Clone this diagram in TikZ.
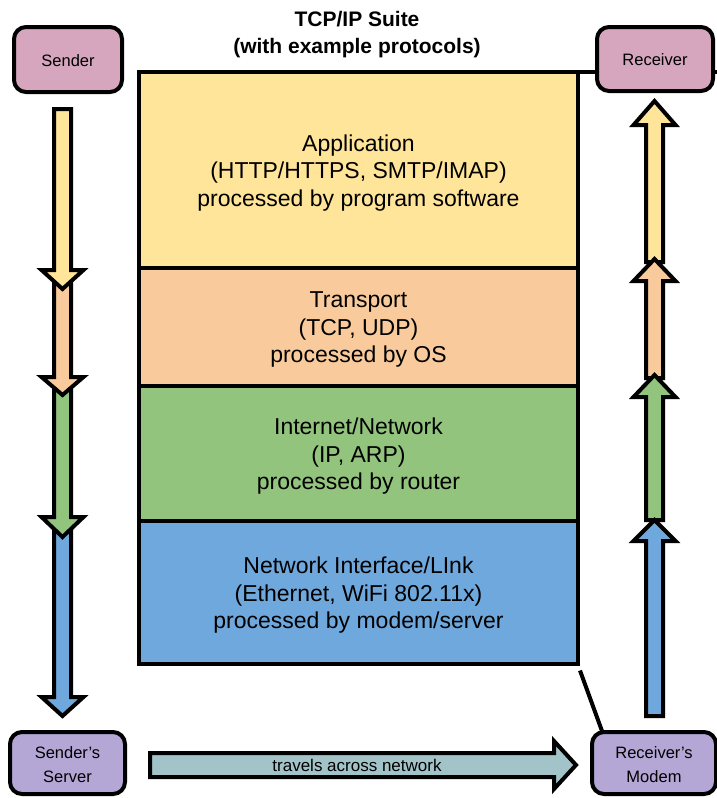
\documentclass[tikz,border=0pt]{standalone}
\usepackage{fontspec}
\setmainfont{Liberation Sans}
\usetikzlibrary{calc}

\definecolor{appfill}{HTML}{FFE599}
\definecolor{transfill}{HTML}{F9CB9C}
\definecolor{netfill}{HTML}{93C47D}
\definecolor{linkfill}{HTML}{6FA8DC}
\definecolor{endfill}{HTML}{D5A6BD}
\definecolor{hostfill}{HTML}{B4A7D6}
\definecolor{wirefill}{HTML}{A2C4C9}

% vertical block arrow: x, tail y, shoulder y, tip y, fill
\newcommand\blockarrow[5]{%
  \draw[arrowbody, fill=#5] (#1-8.5,#2) -- (#1+8.5,#2) -- (#1+8.5,#3)
    -- (#1+21,#3) -- (#1,#4) -- (#1-21,#3) -- (#1-8.5,#3) -- cycle;}

\tikzset{
  arrowbody/.style={draw=black, line width=4pt, line join=miter},
  layer/.style={draw=black, line width=4pt, minimum width=439pt, inner sep=0pt},
  layertext/.style={align=center, inner sep=0pt, font=\fontsize{23}{27.5}\selectfont},
  endbox/.style={draw=black, line width=4pt, rounded corners=12pt, inner sep=0pt},
  endtext/.style={align=center, inner sep=0pt, font=\fontsize{16.5}{24}\selectfont},
}

\begin{document}
\begin{tikzpicture}[x=1pt, y=-1pt]
\useasboundingbox (0,0) rectangle (717,798);

% title
\node[align=center, font=\bfseries\fontsize{21}{27}\selectfont] (title) at (357,35)
  {TCP/IP Suite\\(with example protocols)};

% top rule running out to the receiver
\coordinate (topend) at (717,72);
\draw[line width=4pt] (578,72) -- (topend);

% protocol layers
\node[layer, fill=appfill, minimum height=195.5pt] (app) at (358.5,169.75) {};
\node[layer, fill=transfill, minimum height=118pt] (trans) at (358.5,326.5) {};
\node[layer, fill=netfill, minimum height=135.5pt] (net) at (358.5,453.25) {};
\node[layer, fill=linkfill, minimum height=142.5pt] (link) at (358.5,592.25) {};

\node[layertext] (apptext) at ($(app)+(0,3)$)
  {Application\\(HTTP/HTTPS, SMTP/IMAP)\\processed by program software};
\node[layertext] (transtext) at ($(trans)+(0,3)$)
  {Transport\\(TCP, UDP)\\processed by OS};
\node[layertext] (nettext) at ($(net)+(0,3)$)
  {Internet/Network\\(IP, ARP)\\processed by router};
\node[layertext] (linktext) at ($(link)+(0,3)$)
  {Network Interface/LInk\\(Ethernet, WiFi 802.11x)\\processed by modem/server};

% end points
\node[endbox, fill=endfill, minimum width=108pt, minimum height=65pt] (sender) at (68,59.5) {};
\node[endtext] (sendertext) at ($(sender)+(0,1)$) {Sender};
\node[endbox, fill=endfill, minimum width=116pt, minimum height=64pt] (receiver) at (655,59) {};
\node[endtext] (receivertext) at ($(receiver)+(0,1)$) {Receiver};

% link to the receiving modem
\draw[line width=4pt] ($(link.south east)+(0,5)$) -- (602,731);

\node[endbox, fill=hostfill, minimum width=115pt, minimum height=62pt] (server) at (67.5,763) {};
\node[endtext] (servertext) at ($(server)+(0,2)$) {Sender’s\\Server};
\node[endbox, fill=hostfill, minimum width=124pt, minimum height=62pt] (modem) at (654,763) {};
\node[endtext] (modemtext) at ($(modem)+(0,2)$) {Receiver’s\\Modem};

% sender side: data goes down the stack
\blockarrow{62.5}{520}{697}{716}{linkfill}
\blockarrow{62.5}{382}{517}{537}{netfill}
\blockarrow{62.5}{275}{377}{395}{transfill}
\blockarrow{62.5}{109}{270}{289}{appfill}

% receiver side: data goes up the stack
\blockarrow{654.5}{262}{125}{101}{appfill}
\blockarrow{654.5}{378}{281}{259}{transfill}
\blockarrow{654.5}{520}{397}{375}{netfill}
\blockarrow{654.5}{716}{541}{520}{linkfill}

% across the network
\draw[arrowbody, fill=wirefill] (150,753) -- (554,753) -- (554,741) -- (576,765)
  -- (554,789) -- (554,777) -- (150,777) -- cycle;
\node[font=\fontsize{17}{20}\selectfont] (travel) at (357,765) {travels across network};
\end{tikzpicture}
\end{document}
